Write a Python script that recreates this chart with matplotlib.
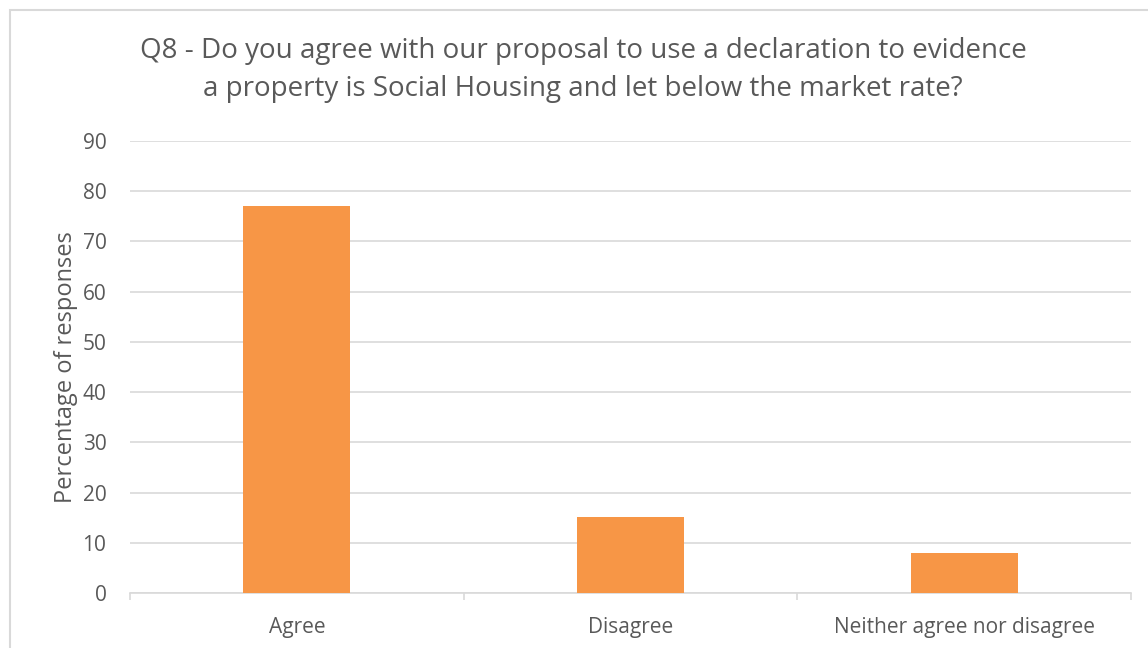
import matplotlib
matplotlib.use("Agg")
import matplotlib.pyplot as plt
from matplotlib.patches import Rectangle

categories = ["Agree", "Disagree", "Neither agree nor disagree"]
percentages = [77.1, 15.1, 7.9]

TITLE = ("Q8 - Do you agree with our proposal to use a declaration to evidence\n"
         "a property is Social Housing and let below the market rate?")

BAR_COLOR = "#F79646"
TEXT_COLOR = "#595959"
GRID_COLOR = "#D9D9D9"

plt.rcParams["font.family"] = ["Open Sans", "DejaVu Sans"]

W, H = 1148, 648
fig = plt.figure(figsize=(W / 100, H / 100), dpi=100)

# chart-area frame, runs off the right and bottom edges
fig.patches.append(Rectangle((10 / W, -0.1), 1.2, 1 - 10 / H + 0.1,
                             transform=fig.transFigure, fill=False,
                             edgecolor=GRID_COLOR, linewidth=1.5))

ax = fig.add_axes([130 / W, (H - 593) / H, (1131 - 130) / W, (593 - 141) / H])
x = range(len(categories))
ax.bar(x, percentages, width=0.32, color=BAR_COLOR, zorder=3)

ax.set_xlim(-0.5, len(categories) - 0.5)
ax.set_ylim(0, 90)
ax.set_yticks(range(0, 91, 10))
ax.yaxis.grid(True, color=GRID_COLOR, linewidth=1.2, zorder=0)
ax.set_xticks(list(x))
ax.set_xticklabels(categories)
ax.set_xticks([i - 0.5 for i in range(len(categories) + 1)], minor=True)
ax.tick_params(axis="x", which="major", length=0, pad=17,
               labelsize=15, labelcolor=TEXT_COLOR)
ax.tick_params(axis="x", which="minor", length=5, color=GRID_COLOR, width=1.2)
ax.tick_params(axis="y", length=0, pad=17, labelsize=15, labelcolor=TEXT_COLOR)

for side in ("top", "right", "left"):
    ax.spines[side].set_visible(False)
ax.spines["bottom"].set_color(GRID_COLOR)
ax.spines["bottom"].set_linewidth(1.2)

ax.set_ylabel("Percentage of responses", fontsize=17, color=TEXT_COLOR, labelpad=3)

fig.text(583 / W, 1 - 70 / H, TITLE, ha="center", va="center",
         fontsize=20, color=TEXT_COLOR, linespacing=1.45)

fig.savefig("out.png", dpi=100)
